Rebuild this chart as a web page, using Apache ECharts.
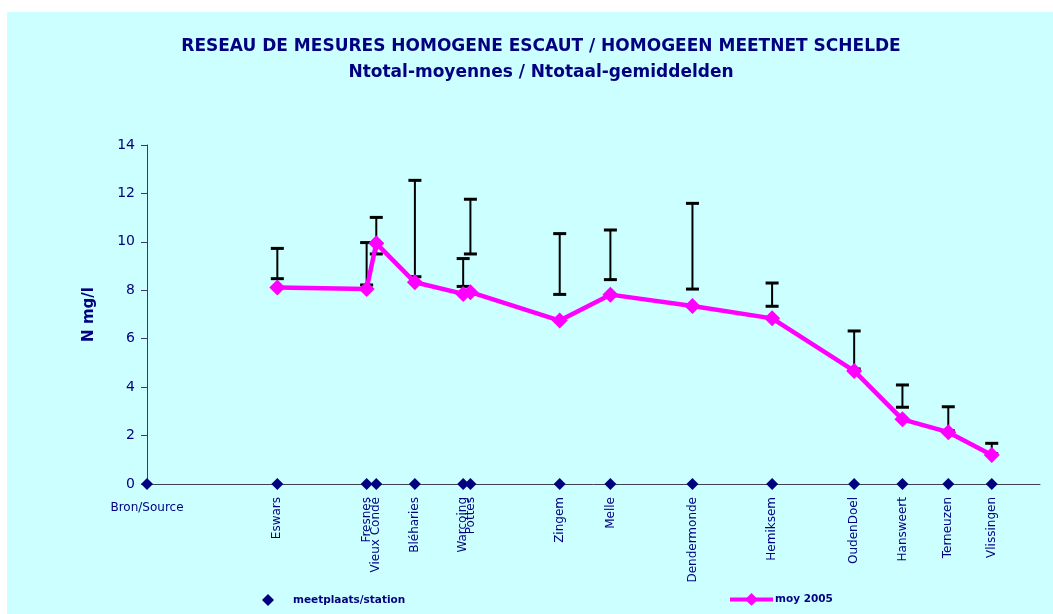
<!DOCTYPE html>
<html>
<head>
<meta charset="utf-8">
<script src="https://cdn.jsdelivr.net/npm/echarts@6/dist/echarts.min.js"></script>
<style>
html,body{margin:0;padding:0;background:#ffffff;width:1053px;height:614px;overflow:hidden;}
#chart{position:absolute;left:7px;top:12px;width:1046px;height:602px;}
</style>
</head>
<body>
<div id="chart"></div>
<script>
// Data
var stations = ['Bron/Source','Eswars','Fresnes','Vieux Condé','Bléharies','Warcoing','Pottes','Zingem','Melle','Dendermonde','Hemiksem','OudenDoel','Hansweert','Terneuzen','Vlissingen'];
var km = [0, 54, 91, 95, 111, 131, 134, 171, 192, 226, 259, 293, 313, 332, 350];
var moy2005 = [null, 8.12, 8.05, 9.94, 8.33, 7.85, 7.92, 6.75, 7.82, 7.35, 6.84, 4.67, 2.67, 2.14, 1.20];
var rangeLow = [null, 8.48, 8.22, 9.50, 8.56, 8.16, 9.50, 7.83, 8.44, 8.05, 7.34, 4.75, 3.17, 2.20, 1.25];
var rangeHigh = [null, 9.73, 9.97, 11.01, 12.54, 9.31, 11.76, 10.34, 10.49, 11.59, 8.30, 6.32, 4.09, 3.19, 1.68];
var yTicks = [0, 2, 4, 6, 8, 10, 12, 14];

var NAVY = '#000080';
var FONT = 'DejaVu Sans';

var stationData = stations.map(function (s, i) {
  var item = { name: s, value: [km[i], 0] };
  if (i === 0) {
    item.label = { rotate: 0, align: 'center', verticalAlign: 'top', distance: 12, position: 'bottom' };
  }
  return item;
});
var moyData = [];
var barData = [];
for (var i = 0; i < stations.length; i++) {
  if (moy2005[i] !== null) moyData.push([km[i], moy2005[i]]);
  if (rangeLow[i] !== null) barData.push([km[i], rangeLow[i], rangeHigh[i]]);
}

var chart = echarts.init(document.getElementById('chart'), null, { renderer: 'canvas' });
chart.setOption({
  backgroundColor: '#CCFFFF',
  animation: false,
  textStyle: { fontFamily: FONT },
  title: [
    { text: 'RESEAU DE MESURES HOMOGENE ESCAUT / HOMOGEEN MEETNET SCHELDE', left: 529, textAlign: 'center', top: 21,
      textStyle: { color: NAVY, fontSize: 17, fontWeight: 'bold', fontFamily: FONT } },
    { text: 'Ntotal-moyennes / Ntotaal-gemiddelden', left: 529, textAlign: 'center', top: 47,
      textStyle: { color: NAVY, fontSize: 17, fontWeight: 'bold', fontFamily: FONT } }
  ],
  legend: [
    { data: [{ name: 'meetplaats/station', icon: 'diamond' }], left: 250, top: 577, itemWidth: 12, itemHeight: 12,
      itemStyle: { opacity: 1 },
      textStyle: { color: NAVY, fontSize: 10.5, fontWeight: 'bold', fontFamily: FONT, padding: [0, 0, 0, 14] } },
    { data: ['moy 2005'], left: 716, top: 576, itemWidth: 43, itemHeight: 16,
      lineStyle: { width: 4 },
      textStyle: { color: NAVY, fontSize: 10.5, fontWeight: 'bold', fontFamily: FONT, padding: [0, 0, 0, -3] } }
  ],
  grid: { left: 140, top: 133, right: 13, bottom: 130, containLabel: false },
  xAxis: {
    type: 'value', min: 0, max: 370,
    axisLine: { show: true, onZero: true, lineStyle: { color: '#404050', width: 1 } },
    axisTick: { show: false }, axisLabel: { show: false }, splitLine: { show: false }
  },
  yAxis: {
    type: 'value', min: yTicks[0], max: yTicks[yTicks.length - 1], interval: 2,
    name: 'N mg/l', nameLocation: 'middle', nameGap: 50, nameRotate: 90,
    nameTextStyle: { color: NAVY, fontSize: 15, fontWeight: 'bold', fontFamily: FONT },
    axisLine: { show: true, lineStyle: { color: '#3a3a6a', width: 1 } },
    axisTick: { show: true, inside: false, length: 6, lineStyle: { color: '#3a3a6a' } },
    axisLabel: { color: NAVY, fontSize: 14, margin: 12, fontFamily: FONT },
    splitLine: { show: false }
  },
  series: [
    {
      name: 'range', type: 'custom', data: barData, z: 2,
      encode: { x: 0, y: [1, 2] },
      renderItem: function (params, api) {
        var p1 = api.coord([api.value(0), api.value(1)]);
        var p2 = api.coord([api.value(0), api.value(2)]);
        var hw = 6.5;
        var st = { stroke: '#000000', lineWidth: 2 };
        var cs = { stroke: '#000000', lineWidth: 3 };
        return { type: 'group', children: [
          { type: 'line', shape: { x1: p1[0], y1: p1[1], x2: p2[0], y2: p2[1] }, style: st },
          { type: 'line', shape: { x1: p1[0] - hw, y1: p1[1], x2: p1[0] + hw, y2: p1[1] }, style: cs },
          { type: 'line', shape: { x1: p2[0] - hw, y1: p2[1], x2: p2[0] + hw, y2: p2[1] }, style: cs }
        ] };
      }
    },
    {
      name: 'meetplaats/station', type: 'scatter', data: stationData, symbol: 'diamond', symbolSize: 12, z: 3,
      itemStyle: { color: NAVY, opacity: 1 },
      label: {
        show: true, position: 'bottom', distance: 7, rotate: 90, align: 'right', verticalAlign: 'middle',
        formatter: function (p) { return p.name; },
        color: NAVY, fontSize: 12, fontFamily: FONT, opacity: 1
      },
      emphasis: { disabled: true }
    },
    {
      name: 'moy 2005', type: 'line', data: moyData, symbol: 'diamond', symbolSize: 16, z: 4,
      lineStyle: { color: '#FF00FF', width: 4.5 },
      itemStyle: { color: '#FF00FF' },
      emphasis: { disabled: true }
    }
  ]
});
</script>
</body>
</html>
